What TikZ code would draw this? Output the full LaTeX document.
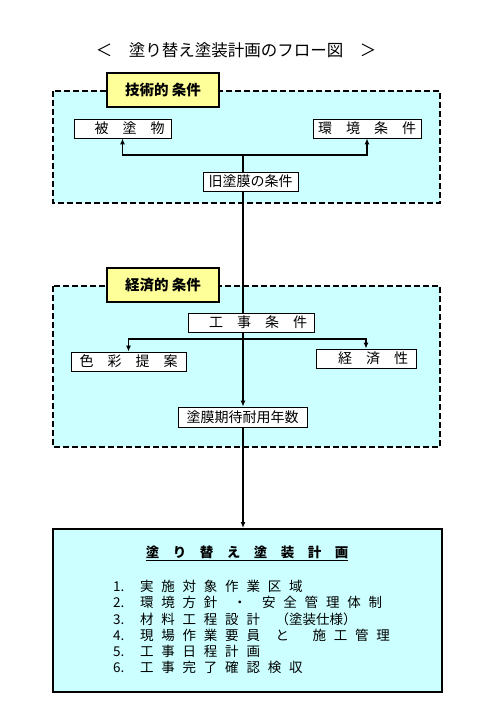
\documentclass[tikz,border=0pt]{standalone}
\usepackage{fontspec}
\setmainfont{Noto Sans CJK JP}
\usepackage{tikz}
\usetikzlibrary{arrows.meta}

\definecolor{paleCyan}{HTML}{CCFFFF}
\definecolor{paleYellow}{HTML}{FFFF99}

\begin{document}
\begin{tikzpicture}[x=1pt,y=-1pt,
  every node/.style={font=\fontsize{14}{16}\selectfont,inner sep=0pt},
  area/.style={fill=paleCyan,line width=1.6pt,dash pattern=on 6pt off 3pt},
  tag/.style={draw,line width=1.8pt,fill=paleYellow,minimum width=112pt,minimum height=34pt,font=\fontsize{14.5}{16}\selectfont\bfseries},
  item/.style={draw,line width=0.8pt,fill=white,minimum height=19pt},
  link/.style={line width=1.7pt},
  arr/.style={link,-{Latex[length=6pt,width=5pt]}}]
\useasboundingbox (0,0) rectangle (495,708);
\node (title) at (236,50) {\fontsize{16.5}{18}\selectfont ＜　塗り替え塗装計画のフロー図　＞};
% technical conditions
\draw[area] (53,91) rectangle (440,203);
\node[tag] (tech) at (163,90) {技術的 条件};
\node[item,minimum width=97pt] (hi) at (122.5,128.5) {　被　塗　物};
\node[item,minimum width=108pt] (kan) at (367,128.5) {環　境　条　件};
\node[item,minimum width=95pt] (kyu) at (250.5,181.5) {旧塗膜の条件};
% economic conditions
\draw[area] (53,286) rectangle (440,447);
\node[tag] (econ) at (163,285) {経済的 条件};
\node[item,minimum width=126pt] (kouji) at (251,322.5) {　工　事　条　件};
\node[item,minimum width=115pt] (shiki) at (128.5,361.5) {色　彩　提　案};
\node[item,minimum width=100pt] (kei) at (366,358.5) {　経　済　性};
\node[item,minimum width=129pt,minimum height=20pt] (tomaku) at (242.5,417) {塗膜期待耐用年数};
% plan
\node[draw,line width=2pt,fill=paleCyan,minimum width=389pt,minimum height=163pt] (plan) at (247.5,610.5) {};
\node[font=\fontsize{13.5}{15}\selectfont\bfseries] (head) at (247,553) {\underline{塗　り　替　え　塗　装　計　画}};
\node[anchor=north west,font=\fontsize{13.5}{16}\selectfont] (list) at (113,580)
  {\spaceskip=7.8pt\relax
   \begin{tabular}{@{}l@{}}
   1.\ \ 実 施 対 象 作 業 区 域\\
   2.\ \ 環 境 方 針 \ ・ \ 安 全 管 理 体 制\\
   3.\ \ 材 料 工 程 設 計 \ （塗装仕様）\\
   4.\ \ 現 場 作 業 要 員 \ と \ \ 施 工 管 理\\
   5.\ \ 工 事 日 程 計 画\\
   6.\ \ 工 事 完 了 確 認 検 収
   \end{tabular}};
% connectors
\coordinate (j1) at (243,155);
\coordinate (j2) at (243,339);
\draw[link] (kyu.north -| j1) -- (j1);
\draw[arr] (j1) -| (hi.south);
\draw[arr] (j1) -| (kan.south);
\draw[link] (kyu.south -| j1) -- (kouji.north -| j1);
\draw[arr] (kouji.south -| j2) -- (tomaku.north -| j2);
\draw[arr] (j2) -| (shiki.north);
\draw[arr] (j2) -| (kei.north);
\draw[arr] (tomaku.south -| j2) -- (plan.north -| j2);
\end{tikzpicture}
\end{document}
